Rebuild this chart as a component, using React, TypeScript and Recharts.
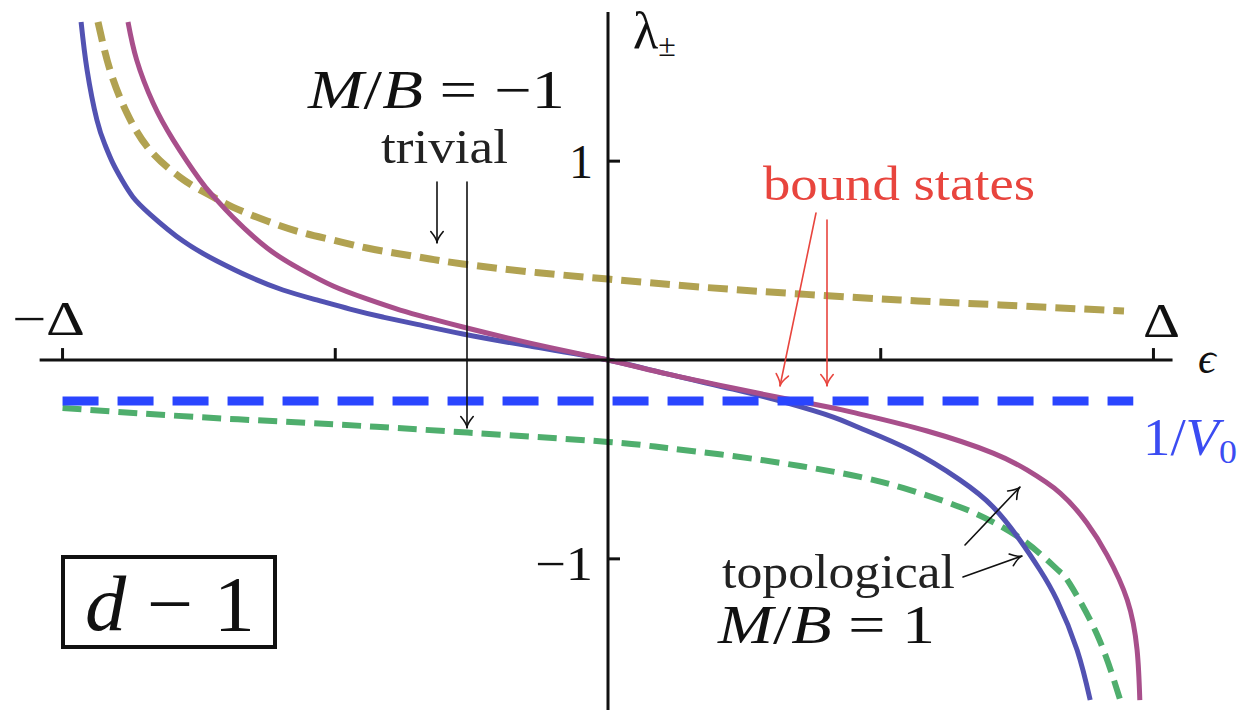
import { LineChart, Line, XAxis, YAxis, ReferenceLine } from 'recharts';

// eigenvalue branches λ±(ε), ε in units of Δ
const BLUE_SOLID: [number, number][] = [
  [-0.966, 1.7], [-0.955, 1.458], [-0.937, 1.207], [-0.922, 1.081], [-0.908, 0.991],
  [-0.891, 0.905], [-0.871, 0.82], [-0.84, 0.734], [-0.779, 0.598], [-0.717, 0.498],
  [-0.656, 0.417], [-0.596, 0.352], [-0.534, 0.302], [-0.473, 0.256], [-0.413, 0.216],
  [-0.35, 0.179], [-0.266, 0.131], [-0.143, 0.07], [0, 0], [0.108, -0.07],
  [0.229, -0.146], [0.328, -0.216], [0.413, -0.287], [0.462, -0.342], [0.554, -0.453],
  [0.645, -0.603], [0.706, -0.739], [0.755, -0.905], [0.792, -1.056], [0.823, -1.207],
  [0.86, -1.458], [0.884, -1.71],
];

const PURPLE_SOLID: [number, number][] = [
  [-0.88, 1.7], [-0.864, 1.508], [-0.834, 1.292], [-0.797, 1.106], [-0.748, 0.905],
  [-0.724, 0.825], [-0.688, 0.719], [-0.625, 0.563], [-0.565, 0.458], [-0.504, 0.372],
  [-0.442, 0.307], [-0.381, 0.251], [-0.326, 0.209], [-0.266, 0.166], [-0.143, 0.085],
  [0, 0], [0.108, -0.07], [0.229, -0.141], [0.328, -0.196], [0.413, -0.241],
  [0.462, -0.272], [0.585, -0.357], [0.706, -0.468], [0.768, -0.553], [0.829, -0.669],
  [0.878, -0.82], [0.915, -0.981], [0.952, -1.207], [0.97, -1.458], [0.975, -1.71],
];

const OLIVE_DASHED: [number, number][] = [
  [-0.935, 1.7], [-0.913, 1.458], [-0.882, 1.242], [-0.84, 1.056], [-0.785, 0.92],
  [-0.748, 0.855], [-0.724, 0.82], [-0.688, 0.769], [-0.625, 0.699], [-0.565, 0.644],
  [-0.504, 0.603], [-0.442, 0.563], [-0.381, 0.533], [-0.326, 0.508], [-0.266, 0.483],
  [-0.143, 0.443], [0, 0.407], [0.169, 0.367], [0.352, 0.332], [0.535, 0.302],
  [0.719, 0.277], [0.946, 0.246],
];

const GREEN_DASHED: [number, number][] = [
  [-1.0, -0.241], [-0.752, -0.287], [-0.499, -0.324], [-0.257, -0.365], [0, -0.412],
  [0.108, -0.443], [0.229, -0.483], [0.352, -0.533], [0.462, -0.588], [0.554, -0.654],
  [0.645, -0.739], [0.706, -0.815], [0.755, -0.895], [0.797, -0.986], [0.829, -1.066],
  [0.847, -1.127], [0.897, -1.383], [0.939, -1.71],
];

// 1/V0 level
const INV_V0: [number, number][] = [[-1.0, -0.206], [0.963, -0.206]];

const X_TICKS = [-1, -0.5, 0.5, 1];
const Y_TICKS = [-1, 1];

const pts = (arr: [number, number][]) => arr.map(([e, l]) => ({ e, l }));

const SERIF = 'Liberation Serif, serif';

function Arrow({ x1, y1, x2, y2, color = '#111' }: { x1: number; y1: number; x2: number; y2: number; color?: string }) {
  const a = Math.atan2(y2 - y1, x2 - x1);
  const h = 13;
  const s = 0.5;
  const p1 = [x2 - h * Math.cos(a - s), y2 - h * Math.sin(a - s)];
  const p2 = [x2 - h * Math.cos(a + s), y2 - h * Math.sin(a + s)];
  const q = [x2 - 4 * Math.cos(a), y2 - 4 * Math.sin(a)];
  return (
    <g stroke={color} strokeWidth={1.6} fill="none" strokeLinecap="round">
      <line x1={x1} y1={y1} x2={x2} y2={y2} />
      <path d={`M${p1[0]},${p1[1]} Q${q[0]},${q[1]} ${x2},${y2} Q${q[0]},${q[1]} ${p2[0]},${p2[1]}`} />
    </g>
  );
}

export default function App() {
  return (
    <div style={{ position: 'absolute', left: 0, top: 0, width: 1238, height: 710, background: '#fff' }}>
      <LineChart width={1238} height={710} data={pts(BLUE_SOLID)} margin={{ top: 12, right: 30, bottom: 2, left: 8 }}>
        <XAxis type="number" dataKey="e" domain={[-1.1, 1.1]} allowDataOverflow hide />
        <YAxis type="number" dataKey="l" domain={[-1.75, 1.75]} allowDataOverflow hide />
        <Line data={pts(OLIVE_DASHED)} dataKey="l" type="natural" stroke="#b1a251" strokeWidth={7} strokeDasharray="20 9" dot={false} isAnimationActive={false} />
        <Line data={pts(GREEN_DASHED)} dataKey="l" type="natural" stroke="#4fae6d" strokeWidth={6} strokeDasharray="19 9" dot={false} isAnimationActive={false} />
        <Line data={pts(BLUE_SOLID)} dataKey="l" type="natural" stroke="#5252b2" strokeWidth={5} dot={false} isAnimationActive={false} />
        <Line data={pts(PURPLE_SOLID)} dataKey="l" type="natural" stroke="#a84f8b" strokeWidth={5} dot={false} isAnimationActive={false} />
        <Line data={pts(INV_V0)} dataKey="l" type="linear" stroke="#2a45ff" strokeWidth={9} strokeDasharray="36 19" dot={false} isAnimationActive={false} />
        {/* axes crossing at the origin */}
        <ReferenceLine segment={[{ x: -1.042, y: 0 }, { x: 1.035, y: 0 }]} stroke="#111" strokeWidth={3} ifOverflow="visible" />
        <ReferenceLine segment={[{ x: 0, y: -1.76 }, { x: 0, y: 1.75 }]} stroke="#111" strokeWidth={3} ifOverflow="visible" />
        {X_TICKS.map(t => (
          <ReferenceLine key={'x' + t} segment={[{ x: t, y: 0 }, { x: t, y: 0.06 }]} stroke="#111" strokeWidth={3} />
        ))}
        {Y_TICKS.map(t => (
          <ReferenceLine key={'y' + t} segment={[{ x: 0, y: t }, { x: 0.022, y: t }]} stroke="#111" strokeWidth={3} />
        ))}
      </LineChart>

      <svg width={1238} height={710} style={{ position: 'absolute', left: 0, top: 0, pointerEvents: 'none', fontFamily: SERIF }}>
        {/* axis labels */}
        <text x={633} y={48} fontSize={52} fill="#111">λ<tspan fontSize={32} dy={8}>±</tspan></text>
        <text x={1198} y={373} fontSize={44} fontStyle="italic" fill="#111">ϵ</text>
        <text x={593} y={178} fontSize={48} fill="#111" textAnchor="end">1</text>
        <text x={535} y={580} fontSize={48} fill="#111" textLength={58} lengthAdjust="spacingAndGlyphs">−1</text>
        <text x={12} y={335} fontSize={48} fill="#111" textLength={73} lengthAdjust="spacingAndGlyphs">−Δ</text>
        <text x={1143} y={337} fontSize={48} fill="#111" textLength={37} lengthAdjust="spacingAndGlyphs">Δ</text>

        {/* annotations */}
        <text x={308} y={108} fontSize={54} fill="#111" textLength={257} lengthAdjust="spacingAndGlyphs">
          <tspan fontStyle="italic">M</tspan>/<tspan fontStyle="italic">B</tspan> = −1
        </text>
        <text x={381} y={163} fontSize={48} fill="#222" textLength={127} lengthAdjust="spacingAndGlyphs">trivial</text>
        <Arrow x1={437} y1={182} x2={437} y2={243} />
        <Arrow x1={467} y1={182} x2={467} y2={428} />

        <text x={763} y={200} fontSize={48} fill="#e8453e" textLength={272} lengthAdjust="spacingAndGlyphs">bound states</text>
        <Arrow x1={816} y1={213} x2={780} y2={386} color="#e8453e" />
        <Arrow x1={827} y1={220} x2={827} y2={386} color="#e8453e" />

        <text x={1143} y={455} fontSize={52} fill="#3b4cf2" textLength={94} lengthAdjust="spacingAndGlyphs">
          1/<tspan fontStyle="italic">V</tspan><tspan fontSize={34} dy={8}>0</tspan>
        </text>

        <text x={722} y={588} fontSize={48} fill="#222" textLength={233} lengthAdjust="spacingAndGlyphs">topological</text>
        <Arrow x1={965} y1={545} x2={1020} y2={487} />
        <Arrow x1={963} y1={577} x2={1022} y2={556} />
        <text x={718} y={643} fontSize={54} fill="#111" textLength={217} lengthAdjust="spacingAndGlyphs">
          <tspan fontStyle="italic">M</tspan>/<tspan fontStyle="italic">B</tspan> = 1
        </text>

        <rect x={63} y={557} width={212} height={90} fill="none" stroke="#111" strokeWidth={4} />
        <text x={85} y={630} fontSize={78} fill="#111" textLength={170} lengthAdjust="spacingAndGlyphs">
          <tspan fontStyle="italic">d</tspan> − 1
        </text>
      </svg>
    </div>
  );
}
